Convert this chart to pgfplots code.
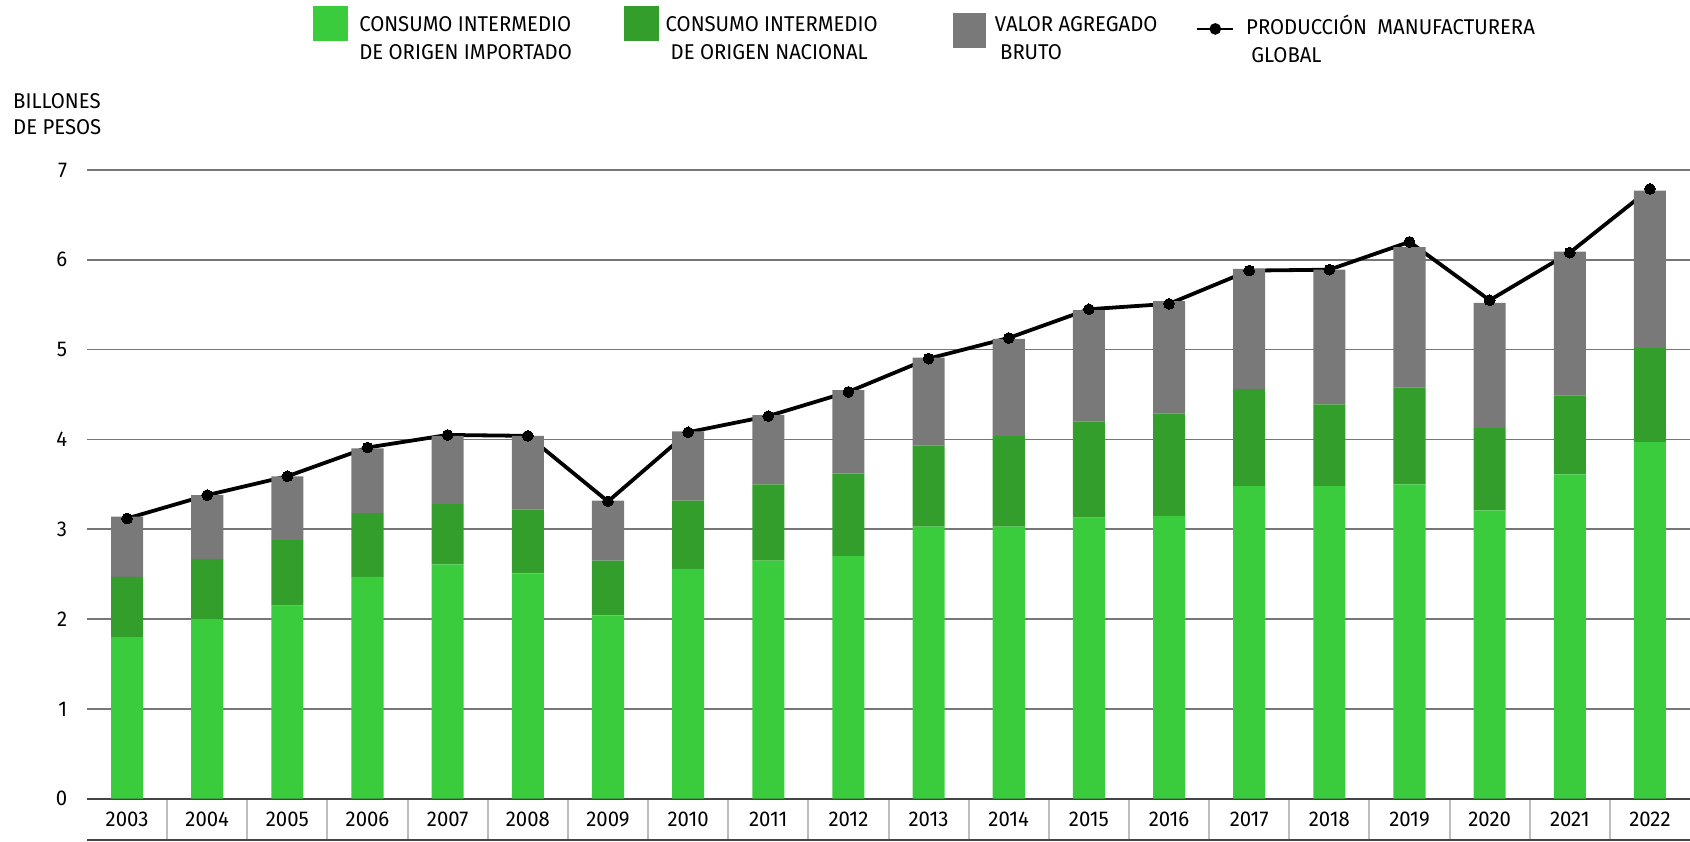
\documentclass[border=0pt]{standalone}
\usepackage{fontspec}
\setmainfont{Fira Sans}[FakeStretch=0.95]
\usepackage{pgfplots}
\pgfplotsset{compat=1.18}
\newdimen\px \px=0.5pt
\definecolor{lightg}{HTML}{3BCC3E}
\definecolor{darkg}{HTML}{349E2D}
\definecolor{grayb}{HTML}{797979}
\definecolor{gridc}{HTML}{767676}
\definecolor{axisc}{HTML}{444444}
\definecolor{sepc}{HTML}{BDBDBD}
\newcommand\lf{\fontsize{10.7}{14}\selectfont}
\begin{document}
\begin{tikzpicture}
\begin{axis}[
  name=ax,
  scale only axis, width=1603\px, height=628.7\px,
  xmin=-0.5, xmax=19.5, ymin=0, ymax=7,
  enlarge x limits=false,
  ybar stacked, bar width=0.4,
  axis line style={draw=none},
  xtick={0,...,19},
  xticklabels={2003,2004,2005,2006,2007,2008,2009,2010,2011,2012,2013,2014,2015,2016,2017,2018,2019,2020,2021,2022},
  minor xtick={0.5,1.5,...,18.5},
  ytick={1,...,7},
  ymajorgrids, grid style={gridc, line width=0.8pt},
  extra y ticks={0},
  extra y tick style={grid style={axisc, line width=1pt}},
  major tick length=0pt, minor tick length=20.5pt, tick align=outside,
  xtick pos=left, ytick pos=left,
  minor x tick style={sepc, line width=1pt},
  x tick label style={anchor=center, yshift=-10.3pt},
  y tick label style={anchor=east, xshift=-6.4pt},
  tick label style={font=\lf},
  /pgf/number format/assume math mode=true,
  ylabel={BILLONES\\DE PESOS},
  every axis y label/.style={at={(axis description cs:-0.0463,1.1225)}, anchor=north west, align=left, inner sep=0pt, font=\fontsize{10.7}{13}\selectfont},
  legend columns=4,
  legend cell align=left,
  legend style={draw=none, fill=none, at={(0.1408,1.2609)}, anchor=north west, inner sep=0pt, outer sep=0pt, nodes={inner sep=0pt}, font=\lf,
    /tikz/every odd column/.style={column sep=0pt}, /tikz/every even column/.style={column sep=0pt}},
]
\addplot[fill=lightg, draw=none, legend image code/.code={\fill[lightg] (0pt,-4.675pt) rectangle (17.5pt,12.675pt); \path (23.3pt,0pt);}] coordinates {
(0,1.80) (1,2.00) (2,2.15) (3,2.47) (4,2.61) (5,2.51) (6,2.04) (7,2.56) (8,2.65) (9,2.70)
(10,3.03) (11,3.03) (12,3.13) (13,3.15) (14,3.48) (15,3.48) (16,3.50) (17,3.21) (18,3.61) (19,3.97)};
\addlegendentry{\parbox{132.35pt}{CONSUMO INTERMEDIO\\DE ORIGEN IMPORTADO}}
\addplot[fill=darkg, draw=none, legend image code/.code={\fill[darkg] (0pt,-4.675pt) rectangle (17.5pt,12.675pt); \path (20.85pt,0pt);}] coordinates {
(0,0.67) (1,0.67) (2,0.73) (3,0.71) (4,0.67) (5,0.71) (6,0.61) (7,0.76) (8,0.85) (9,0.92)
(10,0.90) (11,1.01) (12,1.07) (13,1.14) (14,1.08) (15,0.91) (16,1.08) (17,0.92) (18,0.88) (19,1.05)};
\addlegendentry{\parbox{143.65pt}{CONSUMO INTERMEDIO\\\hspace*{2.5pt}DE ORIGEN NACIONAL}}
\addplot[fill=grayb, draw=none, legend image code/.code={\fill[grayb] (0pt,-8.2pt) rectangle (16.5pt,9.2pt); \path (21pt,0pt);}] coordinates {
(0,0.67) (1,0.71) (2,0.71) (3,0.72) (4,0.76) (5,0.82) (6,0.67) (7,0.77) (8,0.77) (9,0.93)
(10,0.98) (11,1.08) (12,1.24) (13,1.25) (14,1.34) (15,1.50) (16,1.56) (17,1.39) (18,1.60) (19,1.75)};
\addlegendentry{\parbox{100.5pt}{VALOR AGREGADO\\\hspace*{2.6pt}BRUTO}}
\addplot[stack plots=false, sharp plot, black, line width=1.9pt, mark=*, mark size=2.7pt, mark options={fill=black, line width=0pt},
  legend image code/.code={\draw[black, line width=1.3pt] (0pt,1.2pt) -- (18pt,1.2pt); \fill[black] (9pt,1.2pt) circle (1.9pt); \path (23.5pt,1.2pt);}] coordinates {
(0,3.12) (1,3.38) (2,3.59) (3,3.91) (4,4.05) (5,4.04) (6,3.31) (7,4.08) (8,4.26) (9,4.53)
(10,4.90) (11,5.13) (12,5.45) (13,5.51) (14,5.88) (15,5.89) (16,6.20) (17,5.55) (18,6.08) (19,6.79)};
\addlegendentry{\parbox{165pt}{PRODUCCIÓN\hspace*{2.5pt} MANUFACTURERA\\\hspace*{2.6pt}GLOBAL}}
\end{axis}
\draw[axisc, line width=1pt] ([yshift=-20.65pt]ax.south west) -- ([yshift=-20.65pt]ax.south east);
\pgfresetboundingbox
\path ([xshift=-87\px, yshift=-42.3\px]ax.south west) rectangle ([yshift=170\px]ax.north east);
\end{tikzpicture}
\end{document}
